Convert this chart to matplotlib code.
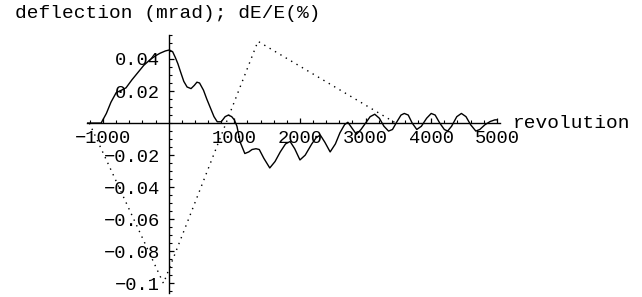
# подключаем библиотеки
import matplotlib
matplotlib.use("Agg")
import matplotlib.pyplot as plt
from matplotlib.ticker import FixedLocator, FixedFormatter, MultipleLocator

plt.rcParams["font.family"] = ["Liberation Mono", "DejaVu Sans Mono"]

# отклонение (mrad) по оборотам - сплошная линия
rev_defl = [-1250, -1030, -950, -880, -800, -720, -650, -560, -480, -380,
            -285, -200, -130, -50, 10, 60, 100, 140, 180, 230,
            280, 340, 390, 430, 470, 530, 580, 630, 690, 740,
            800, 860, 910, 960, 1000, 1040, 1090, 1160, 1220, 1270,
            1330, 1380, 1450, 1540, 1620, 1700, 1780, 1850, 1920, 2000,
            2080, 2180, 2250, 2310, 2380, 2460, 2540, 2610, 2680, 2730,
            2790, 2860, 2930, 3000, 3070, 3140, 3210, 3280, 3350, 3410,
            3480, 3540, 3590, 3650, 3710, 3780, 3850, 3930, 4000, 4060,
            4130, 4200, 4250, 4310, 4390, 4460, 4530, 4600, 4680, 4740,
            4820, 4900, 4970, 5000]
deflection = [0.0, 0.0, 0.006, 0.013, 0.019, 0.0205, 0.022, 0.027, 0.031, 0.036,
              0.0395, 0.042, 0.0436, 0.045, 0.0456, 0.0445, 0.041, 0.037, 0.032, 0.026,
              0.0225, 0.0215, 0.0235, 0.0255, 0.025, 0.0205, 0.015, 0.010, 0.004, 0.0008,
              0.0008, 0.004, 0.005, 0.004, 0.002, -0.002, -0.012, -0.019, -0.018, -0.0165,
              -0.016, -0.0165, -0.022, -0.028, -0.024, -0.018, -0.013, -0.0115, -0.016, -0.023,
              -0.020, -0.013, -0.009, -0.0075, -0.012, -0.018, -0.013, -0.006, -0.001, 0.0005,
              -0.003, -0.007, -0.004, 0.0, 0.004, 0.0055, 0.003, -0.002, -0.005, -0.004,
              0.001, 0.005, 0.006, 0.005, 0.0, -0.004, -0.002, 0.003, 0.006, 0.005,
              0.0, -0.004, -0.005, -0.002, 0.004, 0.006, 0.004, -0.001, -0.005, -0.004,
              -0.001, 0.001, 0.002, 0.002]

# dE/E (%) - пунктир
rev_de = [-1210, -80, 1360, 3460]
de_e = [0.0, -0.1, 0.051, 0.0]

# подписи делений
x_ticks = [-1000, 1000, 2000, 3000, 4000, 5000]
x_labels = ["\u22121000", "1000", "2000", "3000", "4000", "5000"]
y_ticks = [-0.1, -0.08, -0.06, -0.04, -0.02, 0.02, 0.04]
y_labels = ["\u22120.1", "\u22120.08", "\u22120.06", "\u22120.04", "\u22120.02", "0.02", "0.04"]

fig = plt.figure(figsize=(6.42, 2.97), dpi=100)
ax = fig.add_axes([0.135, 0.0135, 0.644, 0.869])

ax.plot(rev_defl, deflection, color="black", lw=1.0)
ax.plot(rev_de, de_e, color="black", lw=1.0, linestyle=(0, (1, 3.5)))

ax.set_xlim(-1250, 5050)
ax.set_ylim(-0.106, 0.055)

# оси как в Mathematica - пересекаются в нуле
ax.spines["left"].set_position(("data", 0))
ax.spines["bottom"].set_position(("data", 0))
ax.spines["top"].set_visible(False)
ax.spines["right"].set_visible(False)
ax.spines["left"].set_linewidth(1.0)
ax.spines["bottom"].set_linewidth(1.0)

ax.xaxis.set_major_locator(FixedLocator(x_ticks))
ax.xaxis.set_major_formatter(FixedFormatter(x_labels))
ax.xaxis.set_minor_locator(MultipleLocator(200))
ax.yaxis.set_major_locator(FixedLocator(y_ticks))
ax.yaxis.set_major_formatter(FixedFormatter(y_labels))
ax.yaxis.set_minor_locator(MultipleLocator(0.005))

ax.tick_params(which="major", direction="in", length=3.5, width=0.9, labelsize=13.5)
ax.tick_params(which="minor", direction="in", length=2, width=0.8)
ax.tick_params(axis="x", which="major", pad=5)
ax.tick_params(axis="y", which="major", pad=6)
ax.patch.set_visible(False)

# подписи осей
fig.text(15 / 642, 1 - 18 / 297, "deflection (mrad); dE/E(%)",
         fontsize=14, va="baseline", ha="left")
fig.text(513 / 642, 1 - 128 / 297, "revolution",
         fontsize=14, va="baseline", ha="left")

plt.savefig("out.png", dpi=100)
